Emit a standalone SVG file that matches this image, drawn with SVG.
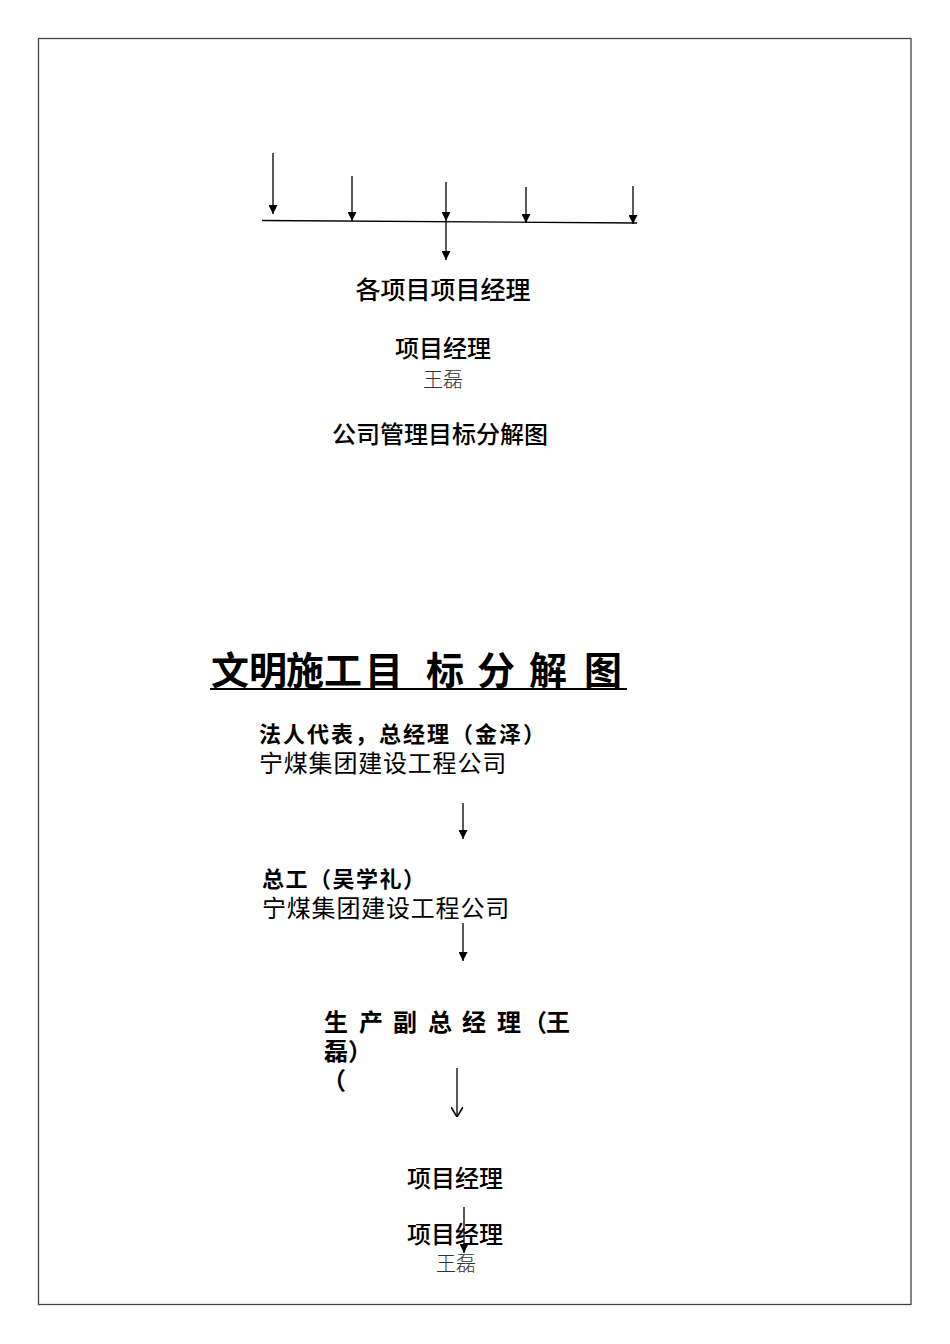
<svg xmlns="http://www.w3.org/2000/svg" width="950" height="1344" viewBox="0 0 950 1344">
<defs>
<marker id="ah" viewBox="0 0 10 10" refX="10" refY="5" markerWidth="10" markerHeight="9" markerUnits="userSpaceOnUse" orient="auto">
<path d="M0,0 L10,5 L0,10 z" fill="#000"/>
</marker>
<marker id="av" viewBox="0 0 10 12" refX="10" refY="6" markerWidth="10" markerHeight="12" markerUnits="userSpaceOnUse" orient="auto">
<path d="M0,0 L10,6 L0,12" fill="none" stroke="#000" stroke-width="1.6"/>
</marker>
<style>
.t{font-family:"Noto Sans CJK SC","Liberation Sans",sans-serif;fill:#000}
.b{font-weight:bold}
.m{font-weight:500}
.r{font-weight:400}
.n{font-family:"Liberation Serif","Noto Sans CJK SC",serif;font-weight:300;fill:#333}
.c{stroke:#000;stroke-width:1.3;fill:none}
</style>
</defs>
<rect x="0" y="0" width="950" height="1344" fill="#fff"/>
<rect x="38.5" y="38.5" width="872.5" height="1266" fill="none" stroke="#444" stroke-width="1.3"/>

<g id="connectors">
<line class="c" x1="273" y1="153" x2="273" y2="214" marker-end="url(#ah)"/>
<line class="c" x1="352" y1="176" x2="352" y2="221" marker-end="url(#ah)"/>
<line class="c" x1="446" y1="182" x2="446" y2="221" marker-end="url(#ah)"/>
<line class="c" x1="526" y1="187" x2="526" y2="223" marker-end="url(#ah)"/>
<line class="c" x1="633" y1="186" x2="633" y2="224" marker-end="url(#ah)"/>
<line class="c" x1="262" y1="220.5" x2="637" y2="223"/>
<line class="c" x1="446" y1="222" x2="446" y2="260" marker-end="url(#ah)"/>
<line class="c" x1="463" y1="803" x2="463" y2="839" marker-end="url(#ah)"/>
<line class="c" x1="463" y1="923" x2="463" y2="961" marker-end="url(#ah)"/>
<line class="c" x1="457" y1="1068" x2="457" y2="1117" marker-end="url(#av)"/>
<line class="c" x1="464" y1="1207" x2="464" y2="1253" marker-end="url(#ah)"/>
</g>

<g id="node-top-pm">
<text class="t m" x="443" y="299" font-size="25" text-anchor="middle">各项目项目经理</text>
</g>
<g id="node-top-manager">
<text class="t m" x="443" y="357" font-size="24" text-anchor="middle">项目经理</text>
<text class="n" x="443" y="387" font-size="20" text-anchor="middle">王磊</text>
</g>
<g id="caption-top">
<text class="t m" x="440" y="443" font-size="24" text-anchor="middle">公司管理目标分解图</text>
</g>

<g id="title">
<text class="t b" y="684" font-size="38"><tspan x="211">文</tspan><tspan x="249">明</tspan><tspan x="286">施</tspan><tspan x="324">工</tspan><tspan x="365">目</tspan><tspan x="426">标</tspan><tspan x="477">分</tspan><tspan x="529">解</tspan><tspan x="584">图</tspan></text>
<line x1="210" y1="689" x2="627" y2="689" stroke="#000" stroke-width="2.2"/>
</g>

<g id="node-legal">
<text class="t b" x="259" y="742" font-size="22" letter-spacing="2">法人代表，总经理（金泽）</text>
<text class="t r" x="259" y="772" font-size="24" letter-spacing="0.8">宁煤集团建设工程公司</text>
</g>
<g id="node-chief-eng">
<text class="t b" x="262" y="887" font-size="22" letter-spacing="1.5">总工（吴学礼）</text>
<text class="t r" x="262" y="917" font-size="24" letter-spacing="0.8">宁煤集团建设工程公司</text>
</g>
<g id="node-vp">
<text class="t b" y="1031" font-size="24"><tspan x="324">生</tspan><tspan x="359">产</tspan><tspan x="393">副</tspan><tspan x="428">总</tspan><tspan x="462">经</tspan><tspan x="497">理</tspan><tspan x="523">（</tspan><tspan x="546">王</tspan></text>
<text class="t b" x="324" y="1060" font-size="24">磊）</text>
<text class="t b" x="322" y="1089" font-size="24">（</text>
</g>
<g id="node-pm1">
<text class="t m" x="455" y="1187" font-size="24" text-anchor="middle">项目经理</text>
</g>
<g id="node-pm2">
<text class="t m" x="455" y="1243" font-size="24" text-anchor="middle">项目经理</text>
<text class="n" x="456" y="1271" font-size="20" text-anchor="middle">王磊</text>
</g>
</svg>
